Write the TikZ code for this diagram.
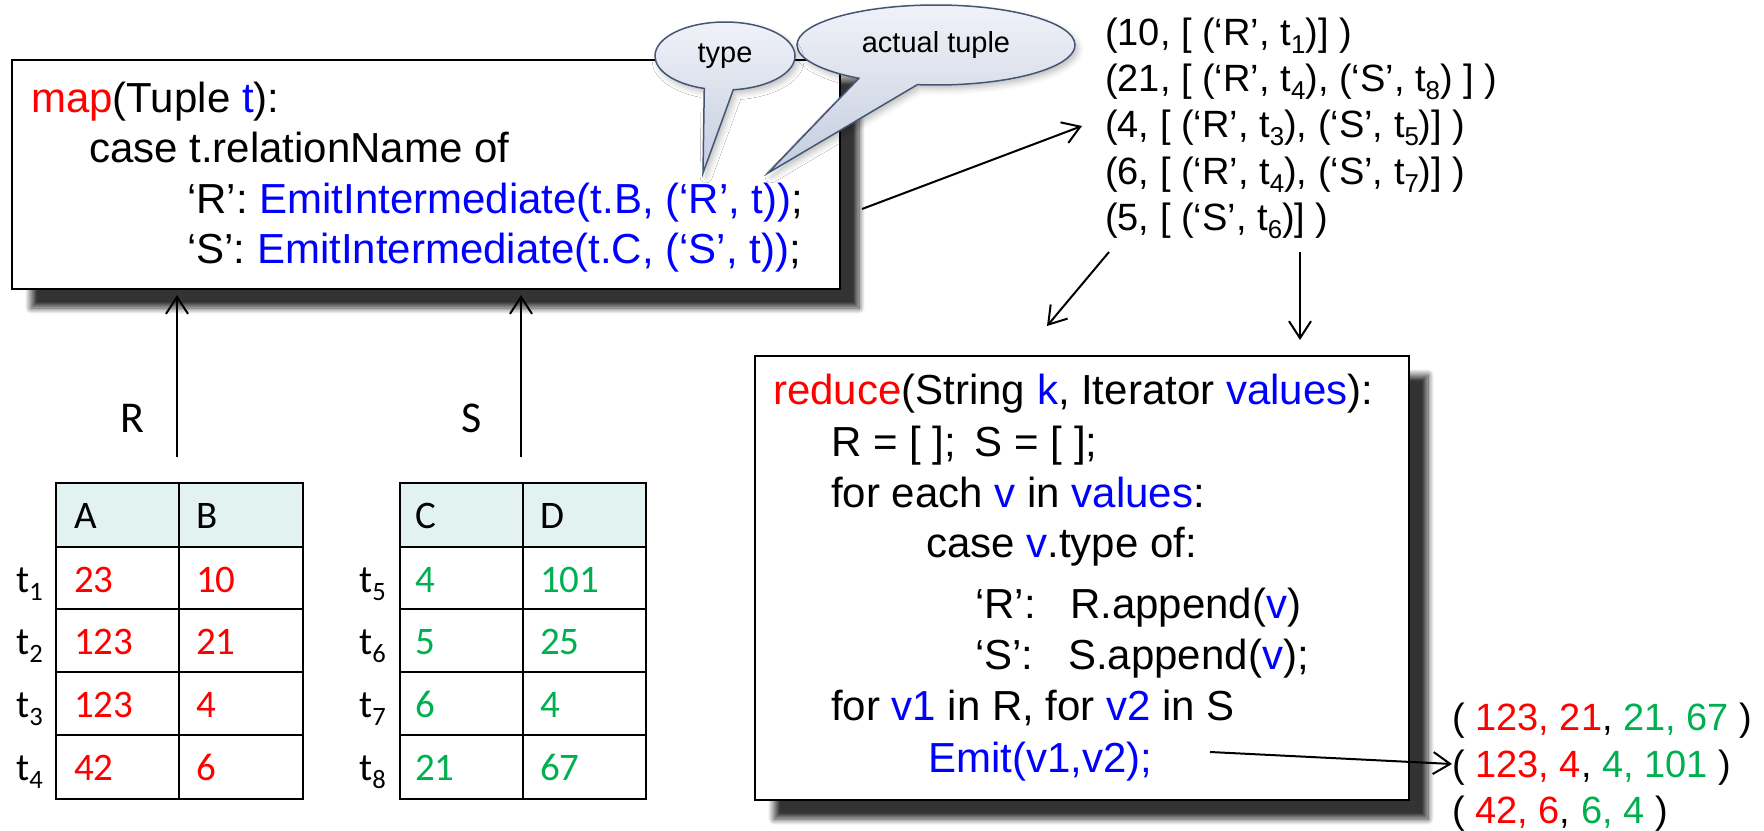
\documentclass[tikz,border=0pt]{standalone}
\usepackage{fontspec}
\setmainfont{Liberation Sans}
\newfontfamily\calfont{Carlito}
\usetikzlibrary{arrows.meta,shadows.blur,shapes.callouts}

\definecolor{codered}{RGB}{255,0,0}
\definecolor{codeblue}{RGB}{0,0,255}
\definecolor{valgreen}{RGB}{0,176,80}
\definecolor{headfill}{RGB}{226,242,240}
\definecolor{bubbleedge}{RGB}{68,86,116}
\definecolor{bubbletop}{RGB}{240,242,248}
\definecolor{bubblebot}{RGB}{196,204,222}

\newcommand\codesize{\fontsize{42}{50}\selectfont}
\newcommand\listsize{\fontsize{38}{46}\selectfont}
\newcommand\tabsize{\calfont\fontsize{39}{47}\selectfont}
\newcommand\rd[1]{\textcolor{codered}{#1}}
\newcommand\bl[1]{\textcolor{codeblue}{#1}}
\newcommand\gr[1]{\textcolor{valgreen}{#1}}
\newcommand\tsub[1]{\raisebox{-0.22em}{\scalebox{0.68}{#1}}}

\tikzset{
  codebox/.style={draw=black, line width=2pt, fill=white, anchor=north west,
    inner sep=0pt,
    blur shadow={shadow xshift=19pt, shadow yshift=-19pt,
      shadow blur radius=6pt, shadow blur steps=12, shadow opacity=80}},
  codeline/.style={anchor=base west, inner sep=0pt, font=\codesize},
  listline/.style={anchor=base west, inner sep=0pt, font=\listsize},
  tabcell/.style={anchor=base west, inner sep=0pt, font=\tabsize},
  rellabel/.style={anchor=base west, inner sep=0pt, font=\calfont\fontsize{44}{52}\selectfont},
  bubble/.style={ellipse callout, draw=bubbleedge, line width=1.5pt,
    top color=bubbletop, bottom color=bubblebot, inner sep=0pt,
    font=\fontsize{29}{34}\selectfont, callout pointer arc=26,
    blur shadow={shadow xshift=3pt, shadow yshift=-4pt,
      shadow blur radius=6pt, shadow opacity=25}},
  flowarrow/.style={-{Straight Barb[length=17pt,width=22pt]}, line width=2pt},
  tabline/.style={line width=2.5pt}
}

\begin{document}
\begin{tikzpicture}[x=1pt,y=1pt]
\useasboundingbox (0,0) rectangle (1764,-830);

% ---------- map function ----------
\node[codebox, minimum width=828pt, minimum height=229pt] (mapbox) at (11,-59) {};
\node[codeline] (m1) at (31,-112) {\rd{map}(Tuple \bl{t}):};
\node[codeline] (m2) at (89,-162) {case t.relationName of};
\node[codeline] (m3) at (187,-213) {‘R’: \bl{EmitIntermediate(t.B, (‘R’, t))};};
\node[codeline] (m4) at (187,-263) {‘S’: \bl{EmitIntermediate(t.C, (‘S’, t))};};

% ---------- callouts ----------
\coordinate (tupletip) at (768,-173);
\node[bubble, callout absolute pointer={(tupletip)}, minimum width=278pt,
      minimum height=80pt] (tupleb) at (936,-45) {actual tuple};
\coordinate (typetip) at (703,-173);
\node[bubble, callout absolute pointer={(typetip)}, minimum width=140pt,
      minimum height=68pt, callout pointer arc=24] (typeb) at (725,-56) {type};

% ---------- intermediate groups ----------
\node[listline] (k1) at (1105,-45) {(10, [ (‘R’, t\tsub{1})] )};
\node[listline] (k2) at (1105,-91) {(21, [ (‘R’, t\tsub{4}), (‘S’, t\tsub{8}) ] )};
\node[listline] (k3) at (1105,-137.5) {(4, [ (‘R’, t\tsub{3}), (‘S’, t\tsub{5})] )};
\node[listline] (k4) at (1105,-184) {(6, [ (‘R’, t\tsub{4}), (‘S’, t\tsub{7})] )};
\node[listline] (k5) at (1105,-230) {(5, [ (‘S’, t\tsub{6})] )};

% ---------- reduce function ----------
\node[codebox, minimum width=654pt, minimum height=444pt] (redbox) at (754,-355) {};
\node[codeline] (r1) at (773,-404) {\rd{reduce}(String \bl{k}, Iterator \bl{values}):};
\node[codeline] (r2) at (831,-456) {R = [ ];\hspace{0.45em}S = [ ];};
\node[codeline] (r3) at (831,-507) {for each \bl{v} in \bl{values}:};
\node[codeline] (r4) at (926,-557) {case \bl{v}.type of:};
\node[codeline] (r5) at (975,-618) {\makebox[95pt][l]{‘R’:}R.append(\bl{v})};
\node[codeline] (r6) at (975,-669) {\makebox[93pt][l]{‘S’:}S.append(\bl{v});};
\node[codeline] (r7) at (831,-720) {for \bl{v1} in R, for \bl{v2} in S};
\node[codeline] (r8) at (928,-772) {\bl{Emit(v1,v2);}};

% ---------- joined output ----------
\node[listline] (o1) at (1452,-730) {( \rd{123, 21}, \gr{21, 67} )};
\node[listline] (o2) at (1452,-777) {( \rd{123, 4}, \gr{4, 101} )};
\node[listline] (o3) at (1452,-823) {( \rd{42, 6}, \gr{6, 4} )};

% ---------- relation R ----------
\fill[headfill] (56,-483) rectangle (303,-547);
\draw[tabline] (56,-483) rectangle (303,-799);
\draw[tabline] (179,-483) -- (179,-799);
\foreach \yy in {547,609,672,735} \draw[tabline] (56,-\yy) -- (303,-\yy);
\node[tabcell] (ra) at (74,-528) {A};
\node[tabcell] (rb) at (196,-528) {B};
\node[tabcell] (r1a) at (74,-592) {\rd{23}};
\node[tabcell] (r1b) at (196,-592) {\rd{10}};
\node[tabcell] (r2a) at (74,-654) {\rd{123}};
\node[tabcell] (r2b) at (196,-654) {\rd{21}};
\node[tabcell] (r3a) at (74,-717) {\rd{123}};
\node[tabcell] (r3b) at (196,-717) {\rd{4}};
\node[tabcell] (r4a) at (74,-780) {\rd{42}};
\node[tabcell] (r4b) at (196,-780) {\rd{6}};
\node[tabcell] (t1) at (16,-592) {t\tsub{1}};
\node[tabcell] (t2) at (16,-654) {t\tsub{2}};
\node[tabcell] (t3) at (16,-717) {t\tsub{3}};
\node[tabcell] (t4) at (16,-780) {t\tsub{4}};

% ---------- relation S ----------
\fill[headfill] (400,-483) rectangle (646,-547);
\draw[tabline] (400,-483) rectangle (646,-799);
\draw[tabline] (523,-483) -- (523,-799);
\foreach \yy in {547,609,672,735} \draw[tabline] (400,-\yy) -- (646,-\yy);
\node[tabcell] (sc) at (415,-528) {C};
\node[tabcell] (sd) at (540,-528) {D};
\node[tabcell] (s1c) at (415,-592) {\gr{4}};
\node[tabcell] (s1d) at (540,-592) {\gr{101}};
\node[tabcell] (s2c) at (415,-654) {\gr{5}};
\node[tabcell] (s2d) at (540,-654) {\gr{25}};
\node[tabcell] (s3c) at (415,-717) {\gr{6}};
\node[tabcell] (s3d) at (540,-717) {\gr{4}};
\node[tabcell] (s4c) at (415,-780) {\gr{21}};
\node[tabcell] (s4d) at (540,-780) {\gr{67}};
\node[tabcell] (t5) at (359,-592) {t\tsub{5}};
\node[tabcell] (t6) at (359,-654) {t\tsub{6}};
\node[tabcell] (t7) at (359,-717) {t\tsub{7}};
\node[tabcell] (t8) at (359,-780) {t\tsub{8}};

\node[rellabel] (lblR) at (120,-432) {R};
\node[rellabel] (lblS) at (461,-432) {S};

% ---------- connectors ----------
\coordinate (rfrom) at (177,-457);
\coordinate (rto) at (177,-295);
\coordinate (sfrom) at (521,-457);
\coordinate (sto) at (521,-295);
\coordinate (mapout) at (862,-209);
\coordinate (listin) at (1082,-126);
\coordinate (listoutA) at (1109,-252);
\coordinate (redinA) at (1047,-326);
\coordinate (listoutB) at (1300,-252);
\coordinate (redinB) at (1300,-340);
\coordinate (emitout) at (1210,-752);
\coordinate (joinin) at (1452,-764);

\draw[flowarrow] (rfrom) -- (rto);
\draw[flowarrow] (sfrom) -- (sto);
\draw[flowarrow] (mapout) -- (listin);
\draw[flowarrow] (listoutA) -- (redinA);
\draw[flowarrow] (listoutB) -- (redinB);
\draw[flowarrow] (emitout) -- (joinin);
\end{tikzpicture}
\end{document}
